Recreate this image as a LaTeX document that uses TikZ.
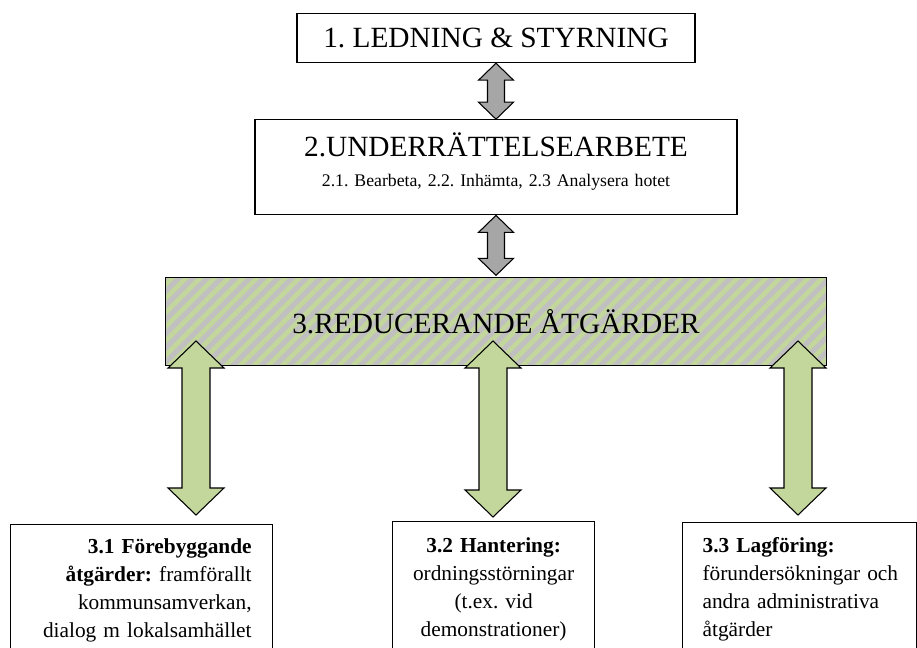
\documentclass[tikz,border=0pt]{standalone}
\usepackage{fontspec}
\setmainfont{Liberation Serif}
\usetikzlibrary{positioning, calc, patterns.meta}
\definecolor{hatchgray}{HTML}{C0C0C0}
\definecolor{leafgreen}{HTML}{C3D69B}
\definecolor{arrowgray}{HTML}{A6A6A6}
\frenchspacing
\tikzset{
    box/.style={
        draw, line width=0.9pt,
        inner ysep=0pt
    },
    title/.style = {font=\fontsize{22}{22.5}\selectfont},
    body/.style = {font=\fontsize{16}{21}\selectfont},
    fat/.style = {draw, line width=0.8pt, line join=miter}
}
% fat double arrow: style, top tip, bottom tip, head half width, shaft half width, head length
\newcommand{\fatarrow}[6]{%
    \draw[#1] (#2) -- ($(#2)+(#4,#6)$) -- ($(#2)+(#5,#6)$) -- ($(#3)+(#5,-#6)$)
        -- ($(#3)+(#4,-#6)$) -- (#3) -- ($(#3)+(-#4,-#6)$) -- ($(#3)+(-#5,-#6)$)
        -- ($(#2)+(-#5,#6)$) -- ($(#2)+(-#4,#6)$) -- cycle;}

\begin{document}
\begin{tikzpicture}[x=0.75pt, y=-0.75pt]
    \useasboundingbox (0,0) rectangle (917,648);

    % Blocks
    \node[box, title, minimum width=298.5pt, minimum height=36.75pt, anchor=north] (lead) at (496,13) {1. LEDNING \& STYRNING};
    \node[box, below = 42pt of lead, minimum width=361.5pt, text width=330pt, inner xsep=15.75pt,
        align=center, text height=27.75pt, text depth=43.5pt,
        font=\fontsize{13.3}{22.5}\selectfont] (intel)
        {{\fontsize{22}{22.5}\selectfont 2.UNDERRÄTTELSEARBETE}\\2.1. Bearbeta, 2.2. Inhämta, 2.3 Analysera hotet};
    \node[box, title, below = 45pt of intel, minimum width=495.75pt, minimum height=66pt,
        preaction={fill=hatchgray},
        pattern={Lines[angle=45, distance=7.5pt, line width=3.5pt]}, pattern color=leafgreen] (red)
        {3.REDUCERANDE ÅTGÄRDER};

    % Bottom blocks
    \node[box, body, anchor=north west, minimum width=196.5pt, text width=165pt, inner xsep=15.75pt,
        align=right, text height=21.75pt, text depth=85pt] (pre) at (10,524)
        {\textbf{3.1 Förebyggande}\\ \textbf{åtgärder:} framförallt\\ kommunsamverkan,\\ dialog m lokalsamhället};
    \node[box, body, anchor=north west, minimum width=151.5pt, text width=127.5pt, inner xsep=12pt,
        align=center, text height=23.25pt, text depth=85pt] (handle) at (392,521)
        {\textbf{3.2 Hantering:}\\ ordningsstörningar\\ (t.ex. vid\\ demonstrationer)};
    \node[box, body, anchor=north west, minimum width=175.5pt, text width=145.5pt, inner xsep=15pt,
        align=left, text height=22.5pt, text depth=85pt] (prosec) at (682,522)
        {\textbf{3.3 Lagföring:}\\ \mbox{förundersökningar och}\\ andra administrativa\\ åtgärder};

    % Arrow ends
    \coordinate (preTop) at (196,341);
    \coordinate (preBot) at (196,515);
    \coordinate (handleTop) at (493,341);
    \coordinate (handleBot) at (493,517);
    \coordinate (prosecTop) at (798,341);
    \coordinate (prosecBot) at (798,515);

    % Arrows
    \fatarrow{fat, fill=arrowgray}{lead.south}{intel.north}{17.5}{8.5}{17}
    \fatarrow{fat, fill=arrowgray}{intel.south}{red.north}{17.5}{8.5}{17}
    \fatarrow{fat, fill=leafgreen}{preTop}{preBot}{28}{14}{27}
    \fatarrow{fat, fill=leafgreen}{handleTop}{handleBot}{28}{14}{27}
    \fatarrow{fat, fill=leafgreen}{prosecTop}{prosecBot}{28}{14}{27}

\end{tikzpicture}
\end{document}
